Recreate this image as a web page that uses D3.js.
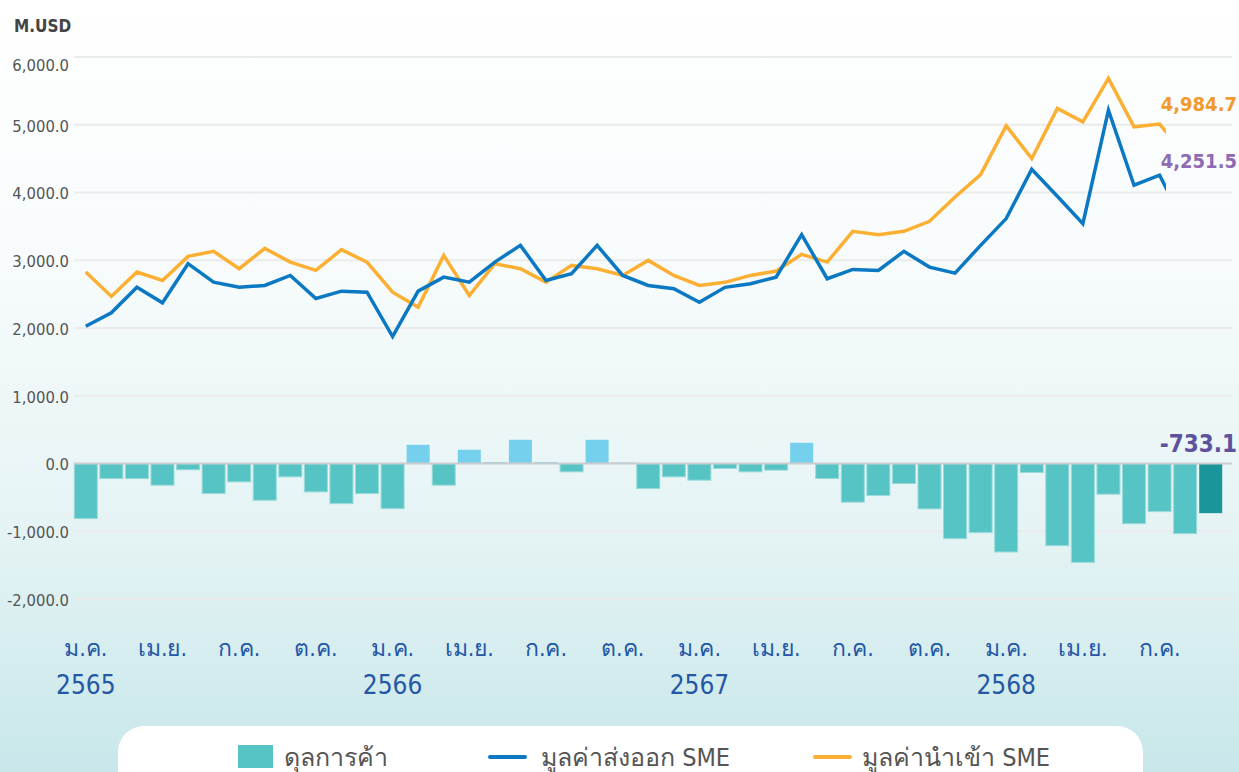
<!DOCTYPE html>
<html>
<head>
<meta charset="utf-8">
<script src="https://cdn.jsdelivr.net/npm/d3@7"></script>
<style>
  body { margin: 0; background: #fff; }
  svg { display: block; font-family: "DejaVu Sans Condensed", "Noto Sans", sans-serif; }
</style>
</head>
<body>
<svg id="chart"></svg>
<script>
// DATA
const years = ['2565', '2566', '2567', '2568'];
const monthNames = ['ม.ค.', 'ก.พ.', 'มี.ค.', 'เม.ย.', 'พ.ค.', 'มิ.ย.', 'ก.ค.', 'ส.ค.', 'ก.ย.', 'ต.ค.', 'พ.ย.', 'ธ.ค.'];
const shownMonths = ['ม.ค.', 'เม.ย.', 'ก.ค.', 'ต.ค.'];
// มูลค่าส่งออก SME (M.USD) ม.ค. 2565 - ก.ย. 2568
const exportSME = [2026, 2224, 2603, 2372, 2949, 2677, 2603, 2628, 2776, 2435, 2544, 2529,
                   1874, 2544, 2751, 2677, 2973, 3220, 2702, 2801, 3220, 2776, 2628, 2579,
                   2381, 2600, 2653, 2751, 3378, 2727, 2865, 2850, 3131, 2899, 2810, 3220,
                   3615, 4344, 3944, 3541, 5216, 4107, 4255, 3520, 4251.5];
// มูลค่านำเข้า SME
const importSME = [2825, 2466, 2825, 2702, 3057, 3131, 2875, 3175, 2973, 2850, 3156, 2973,
                   2529, 2307, 3072, 2480, 2949, 2875, 2677, 2924, 2875, 2776, 2998, 2776,
                   2628, 2674, 2776, 2840, 3087, 2973, 3427, 3378, 3427, 3575, 3934, 4265,
                   4984, 4502, 5242, 5043, 5685, 4969, 5010, 4555, 4984.7];
// ดุลการค้า
const balance = [-813, -222, -222, -320, -93, -444, -271, -542, -197, -419, -592, -444,
                 -666, 276, -320, 203, 20, 350, 20, -123, 350, 15, -370, -197,
                 -246, -74, -123, -98, 306, -222, -571, -473, -296, -670, -1109, -1020,
                 -1306, -133, -1213, -1459, -453, -888, -710, -1035, -733.1];
const yTicks = [-2000, -1000, 0, 1000, 2000, 3000, 4000, 5000, 6000];
const legendNames = ['ดุลการค้า', 'มูลค่าส่งออก SME', 'มูลค่านำเข้า SME'];

// SET VARIABLES
const width = 1239, height = 772;
const colors = {export: '#0a78c2', import: '#fbb034', neg: '#56c4c5', pos: '#74d0ec', last: '#1a9599'};
// hyphen instead of unicode minus, like the source
const fmt = v => d3.format(',.1f')(v).replace('\u2212', '-');

const categories = [];
years.forEach(yr => monthNames.forEach(m => categories.push({m: m, y: yr})));
categories.length = balance.length;

const svg = d3.select('#chart').attr('width', width).attr('height', height);

const defs = svg.append('defs');
const grad = defs.append('linearGradient').attr('id', 'bg').attr('x1', 0).attr('y1', 0).attr('x2', 0).attr('y2', 1);
grad.append('stop').attr('offset', '0%').attr('stop-color', '#ffffff');
grad.append('stop').attr('offset', '35%').attr('stop-color', '#f7fbfc');
grad.append('stop').attr('offset', '70%').attr('stop-color', '#e4f3f4');
grad.append('stop').attr('offset', '100%').attr('stop-color', '#c8e7ea');
defs.append('clipPath').attr('id', 'lineClip')
    .append('rect').attr('x', 0).attr('y', 0).attr('width', 1166).attr('height', height);

svg.append('rect').attr('width', width).attr('height', height).attr('fill', 'url(#bg)');

const x = d3.scaleBand()
            .domain(d3.range(balance.length))
            .range([73, 1223.5])
            .paddingInner(0.1)
            .paddingOuter(0.05);
const y = d3.scaleLinear().domain([-2000, 6000]).range([599, 57]);
const cx = i => x(i) + x.bandwidth() / 2;

// GRID + Y AXIS
svg.append('g')
   .selectAll('line')
   .data(yTicks.filter(d => d !== 0))
   .enter()
   .append('line')
     .attr('x1', 74).attr('x2', 1232)
     .attr('y1', d => y(d)).attr('y2', d => y(d))
     .attr('stroke', '#ebebeb').attr('stroke-width', 2);

svg.append('g')
   .selectAll('text')
   .data(yTicks)
   .enter()
   .append('text')
     .attr('x', 69)
     .attr('y', d => y(d) + (d === 6000 ? 8 : 1))
     .attr('dy', '0.35em')
     .attr('text-anchor', 'end')
     .attr('font-size', 16.5)
     .attr('fill', '#555')
     .text(d => fmt(d));

svg.append('text')
   .attr('x', 14).attr('y', 32)
   .attr('font-size', 17).attr('font-weight', 600).attr('fill', '#444')
   .text('M.USD');

// BARS
svg.append('g')
   .selectAll('rect')
   .data(balance)
   .enter()
   .append('rect')
     .attr('x', (d, i) => x(i))
     .attr('width', x.bandwidth())
     .attr('y', d => Math.min(y(d), y(0)))
     .attr('height', d => Math.abs(y(d) - y(0)))
     .attr('fill', (d, i) => i === balance.length - 1 ? colors.last : (d >= 0 ? colors.pos : colors.neg))
     .attr('stroke', (d, i) => i === balance.length - 1 ? 'none' : (d >= 0 ? 'none' : '#9adada'))
     .attr('stroke-width', 1);

svg.append('line')
   .attr('x1', 74).attr('x2', 1232)
   .attr('y1', y(0)).attr('y2', y(0))
   .attr('stroke', '#cccccc').attr('stroke-width', 2);

// LINES
const line = d3.line().x((d, i) => cx(i)).y(d => y(d));
const lineGroup = svg.append('g').attr('clip-path', 'url(#lineClip)');
lineGroup.append('path')
   .datum(importSME)
   .attr('d', line)
   .attr('fill', 'none').attr('stroke', colors.import).attr('stroke-width', 3.5);
lineGroup.append('path')
   .datum(exportSME)
   .attr('d', line)
   .attr('fill', 'none').attr('stroke', colors.export).attr('stroke-width', 3.5);

// LAST VALUE LABELS
const n = balance.length - 1;
svg.append('text')
   .attr('x', 1237).attr('y', 111).attr('text-anchor', 'end')
   .attr('font-size', 20).attr('font-weight', 'bold').attr('fill', '#f39a2e')
   .text(fmt(importSME[n]));
svg.append('text')
   .attr('x', 1237).attr('y', 168).attr('text-anchor', 'end')
   .attr('font-size', 20).attr('font-weight', 'bold').attr('fill', '#8e6bb2')
   .text(fmt(exportSME[n]));
svg.append('text')
   .attr('x', 1237).attr('y', 452).attr('text-anchor', 'end')
   .attr('font-size', 24).attr('font-weight', 'bold').attr('fill', '#5f529c')
   .text(fmt(balance[n]));

// X AXIS LABELS
const xLabels = svg.append('g')
   .selectAll('g')
   .data(categories.map((c, i) => ({c: c, i: i})).filter(d => shownMonths.includes(d.c.m)))
   .enter()
   .append('g');
xLabels.append('text')
   .attr('x', d => cx(d.i)).attr('y', 656)
   .attr('text-anchor', 'middle')
   .attr('font-size', 23).attr('fill', '#2457a6')
   .text(d => d.c.m);
xLabels.filter(d => d.c.m === 'ม.ค.')
   .append('text')
   .attr('x', d => cx(d.i)).attr('y', 694)
   .attr('text-anchor', 'middle')
   .attr('font-size', 26).attr('fill', '#2457a6')
   .text(d => d.c.y);

// LEGEND
svg.append('rect')
   .attr('x', 118).attr('y', 726).attr('width', 1025).attr('height', 90)
   .attr('rx', 26).attr('fill', '#ffffff');
const legend = svg.append('g');
legend.append('rect').attr('x', 238).attr('y', 745).attr('width', 35).attr('height', 23).attr('fill', colors.neg);
legend.append('line').attr('x1', 490).attr('x2', 525).attr('y1', 757).attr('y2', 757)
      .attr('stroke', colors.export).attr('stroke-width', 4).attr('stroke-linecap', 'round');
legend.append('line').attr('x1', 815).attr('x2', 850).attr('y1', 757).attr('y2', 757)
      .attr('stroke', colors.import).attr('stroke-width', 4).attr('stroke-linecap', 'round');
legend.selectAll('text.lg')
      .data(legendNames)
      .enter()
      .append('text')
        .attr('class', 'lg')
        .attr('x', (d, i) => [284, 541, 862][i])
        .attr('y', 766)
        .attr('font-size', 25).attr('fill', '#555')
        .text(d => d);
</script>
</body>
</html>
